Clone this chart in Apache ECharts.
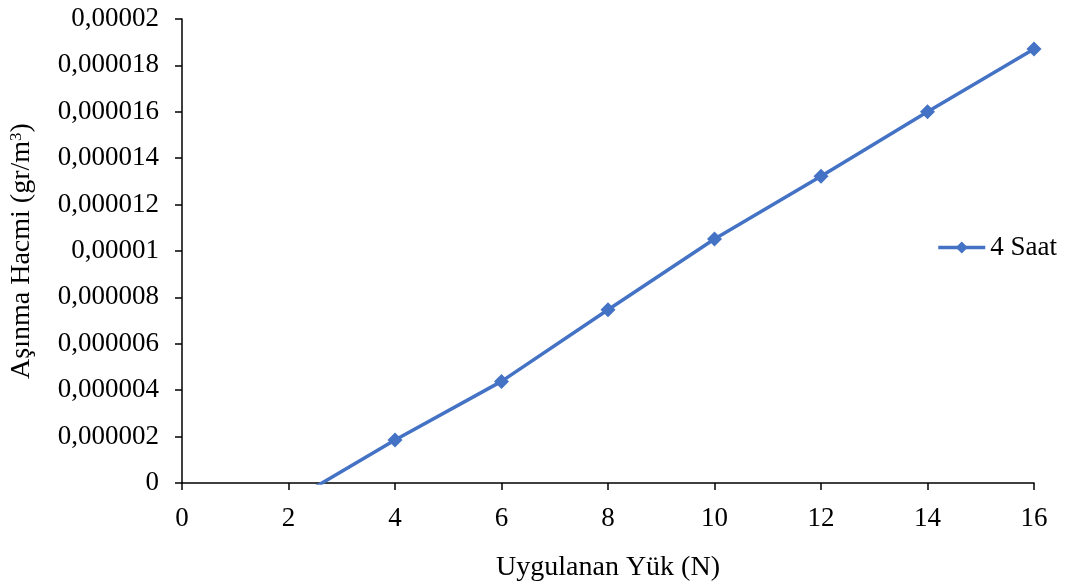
<!DOCTYPE html>
<html>
<head>
<meta charset="utf-8">
<script src="https://cdn.jsdelivr.net/npm/echarts@6/dist/echarts.min.js"></script>
<style>
  html, body { margin: 0; padding: 0; background: #fff; }
  #chart { width: 1068px; height: 587px; }
</style>
</head>
<body>
<div id="chart"></div>
<script>
// uygulanan yük (N) ve aşınma hacmi değerleri
const loads = [2, 4, 6, 8, 10, 12, 14, 16]
const wear4h = [-0.00000085, 0.00000185, 0.00000438, 0.00000747, 0.00001052, 0.00001322, 0.000016, 0.00001871]
const seriesName = '4 Saat'

const font = 'Liberation Serif, Times New Roman, serif'

function fmtY(v) {
  if (v === 0) return '0'
  return v.toFixed(6).replace(/0+$/, '').replace('.', ',')
}

const chart = echarts.init(document.getElementById('chart'))
const option = {
  animation: false,
  textStyle: { fontFamily: font },
  grid: { left: 182, right: 34, top: 19, bottom: 102 },
  legend: {
    right: 6,
    top: 229,
    data: [seriesName],
    itemWidth: 47,
    itemHeight: 15,
    itemGap: 3,
    lineStyle: { width: 3.5 },
    textStyle: { fontFamily: font, fontSize: 27, color: '#000' },
  },
  xAxis: {
    type: 'value',
    min: 0,
    max: 16,
    interval: 2,
    name: 'Uygulanan Yük (N)',
    nameLocation: 'middle',
    nameGap: 71,
    nameTextStyle: { fontFamily: font, fontSize: 28, color: '#000' },
    axisLine: { lineStyle: { color: '#000', width: 1.5 } },
    axisTick: { show: true, inside: false, length: 7, lineStyle: { color: '#000', width: 1.5 } },
    axisLabel: { fontFamily: font, fontSize: 27, color: '#000', margin: 22 },
    splitLine: { show: false },
  },
  yAxis: {
    type: 'value',
    min: 0,
    max: 0.00002,
    interval: 0.000002,
    name: 'Aşınma Hacmi (gr/m{sup|3})',
    nameLocation: 'middle',
    nameGap: 146,
    nameTextStyle: {
      fontFamily: font,
      fontSize: 28,
      color: '#000',
      rich: {
        sup: { fontFamily: font, fontSize: 17, color: '#000', verticalAlign: 'top', lineHeight: 28 },
      },
    },
    axisLine: { show: true, lineStyle: { color: '#000', width: 1.5 } },
    axisTick: { show: true, inside: false, length: 7, lineStyle: { color: '#000', width: 1.5 } },
    axisLabel: { fontFamily: font, fontSize: 27, color: '#000', margin: 23, formatter: fmtY },
    splitLine: { show: false },
  },
  series: [
    {
      name: seriesName,
      type: 'line',
      clip: true,
      data: loads.map((x, i) => [x, wear4h[i]]),
      symbol: 'diamond',
      symbolSize: 15,
      itemStyle: { color: '#4472C4' },
      lineStyle: { color: '#4472C4', width: 3.5 },
    },
  ],
}
chart.setOption(option, true)
</script>
</body>
</html>
